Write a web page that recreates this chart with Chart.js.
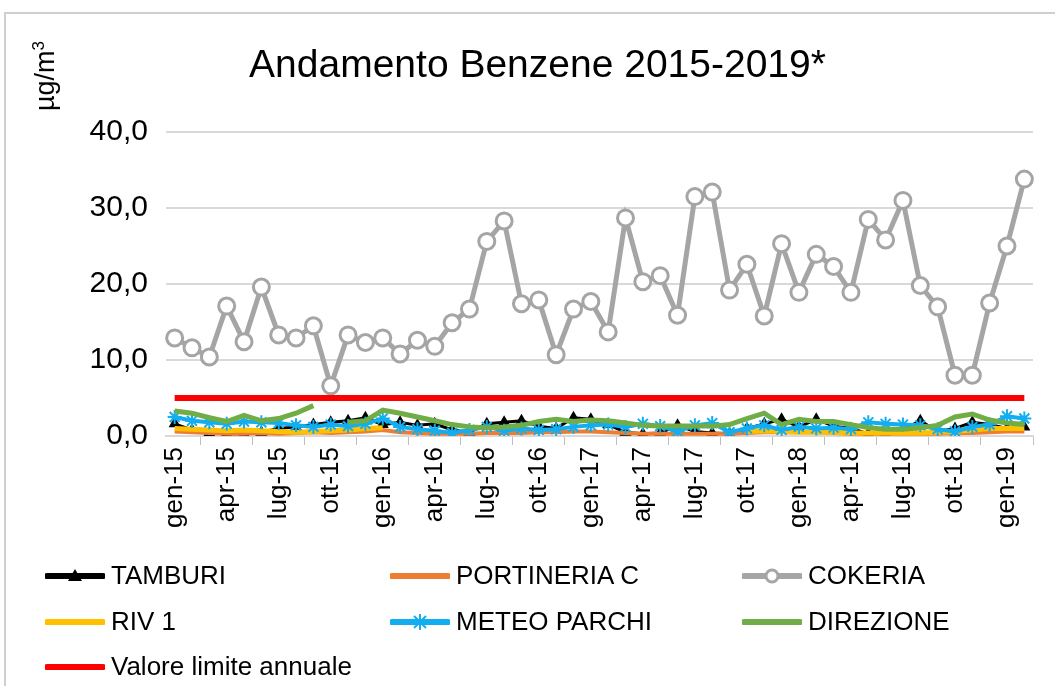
<!DOCTYPE html>
<html>
<head>
<meta charset="utf-8">
<script src="https://cdn.jsdelivr.net/npm/chart.js@4/dist/chart.umd.min.js"></script>
<style>
  body { margin: 0; background: #fff; font-family: "Liberation Sans", sans-serif; }
  #wrap { position: relative; width: 1055px; height: 686px; overflow: hidden; }
  #frame { position: absolute; left: 4px; top: 12px; right: -10px; bottom: -10px; border: 2px solid #cfcfcf; }
  #chart { position: absolute; left: 0; top: 0; }
  #title { position: absolute; left: 0; width: 1075px; top: 42px; text-align: center; font-size: 39px; color: #000; }
  #unit { position: absolute; left: 45px; top: 76px; transform: translate(-50%, -50%) rotate(-90deg); font-size: 27px; color: #000; white-space: nowrap; }
  #unit sup { font-size: 17px; }
  .leg { position: absolute; display: flex; align-items: center; font-size: 26px; color: #000; white-space: nowrap; }
  .leg svg { margin-right: 6px; }
</style>
</head>
<body>
<div id="wrap">
  <div id="frame"></div>
  <canvas id="chart" width="1055" height="686"></canvas>
  <div id="title">Andamento Benzene 2015-2019*</div>
  <div id="unit">µg/m<sup>3</sup></div>
  <div id="legend"></div>
</div>
<script>
const months = [
  "gen-15","feb-15","mar-15","apr-15","mag-15","giu-15","lug-15","ago-15","set-15","ott-15","nov-15","dic-15",
  "gen-16","feb-16","mar-16","apr-16","mag-16","giu-16","lug-16","ago-16","set-16","ott-16","nov-16","dic-16",
  "gen-17","feb-17","mar-17","apr-17","mag-17","giu-17","lug-17","ago-17","set-17","ott-17","nov-17","dic-17",
  "gen-18","feb-18","mar-18","apr-18","mag-18","giu-18","lug-18","ago-18","set-18","ott-18","nov-18","dic-18",
  "gen-19","feb-19"
];

const tamburi = [1.6,0.8,0.4,0.3,0.3,0.5,1.0,1.2,1.5,1.8,2.0,2.4,1.5,1.8,1.4,1.6,0.8,0.5,1.6,1.8,
  2.0,1.3,1.0,2.4,2.2,1.5,0.5,0.3,0.4,1.4,0.6,0.4,0.3,1.0,1.6,2.2,1.2,2.2,1.3,1.0,
  0.3,0.3,0.8,2.0,0.6,1.0,1.8,1.5,1.0,1.2];
const portineria = [0.6,0.5,0.4,0.3,0.3,0.4,0.3,0.4,0.5,0.4,0.5,0.6,0.8,0.5,0.4,0.3,0.3,0.3,0.4,0.4,
  0.4,0.5,0.5,0.6,0.6,0.5,0.4,0.3,0.3,0.3,0.3,0.3,0.3,0.4,0.5,0.5,0.5,0.5,0.4,0.3,
  0.3,0.3,0.3,0.3,0.3,0.4,0.4,0.5,0.6,0.6];
const cokeria = [12.9,11.6,10.4,17.1,12.4,19.6,13.3,12.9,14.5,6.6,
  13.3,12.3,12.9,10.8,12.6,11.8,14.9,16.7,25.6,28.3,
  17.4,17.9,10.7,16.7,17.7,13.7,28.7,20.3,21.1,15.9,
  31.5,32.1,19.2,22.6,15.8,25.3,18.9,23.9,22.3,18.9,
  28.5,25.8,31.0,19.8,17.0,8.0,8.0,17.5,25.0,33.8];
const riv1 = [1.0,0.9,0.8,0.7,0.8,0.7,0.6,0.5,0.6,0.7,0.8,1.0,1.1,null,null,null,null,null,null,null,
  null,null,null,null,null,null,null,null,null,null,null,null,null,0.6,0.7,0.6,0.5,0.5,0.5,0.4,
  0.4,0.4,0.4,0.4,0.5,0.6,0.8,1.0,1.0,1.0];
const meteoParchi = [2.5,2.0,1.8,1.6,1.9,1.8,1.7,1.4,1.2,1.5,1.3,1.6,2.3,1.2,0.9,0.7,0.4,0.8,1.2,0.7,
  1.0,0.8,0.9,1.2,1.4,1.5,1.2,1.6,1.3,0.6,1.4,1.7,0.5,1.0,1.4,0.8,1.2,1.0,1.1,0.9,
  1.8,1.6,1.5,1.4,0.9,0.6,1.2,1.5,2.6,2.3];
const direzione = [3.3,3.0,2.4,1.9,2.7,2.0,2.3,3.0,4.0,null,1.8,2.0,3.4,3.0,2.5,2.0,1.5,1.2,1.1,1.2,
  1.4,1.9,2.2,1.9,2.1,2.0,1.7,1.4,1.3,1.3,1.3,1.3,1.5,2.3,3.0,1.5,2.2,1.9,1.9,1.5,
  1.1,0.9,0.9,1.1,1.4,2.5,2.9,2.1,1.7,1.5];
const valoreLimite = months.map(() => 5.0);

const yTicks = [0, 10, 20, 30, 40];

const series = [
  { label: "TAMBURI", data: tamburi, color: "#000000", width: 3, point: "triangle", radius: 5, fill: "#000000" },
  { label: "PORTINERIA C", data: portineria, color: "#ED7D31", width: 4, point: false, radius: 0 },
  { label: "COKERIA", data: cokeria, color: "#A5A5A5", width: 5, point: "circle", radius: 8, fill: "#ffffff" },
  { label: "RIV 1", data: riv1, color: "#FFC000", width: 5, point: false, radius: 0 },
  { label: "METEO PARCHI", data: meteoParchi, color: "#12AEEF", width: 4, point: "star", radius: 7, fill: "#12AEEF" },
  { label: "DIREZIONE", data: direzione, color: "#70AD47", width: 5, point: false, radius: 0 },
  { label: "Valore limite annuale", data: valoreLimite, color: "#FF0000", width: 6, point: false, radius: 0 }
];

const datasets = series.map((s, i) => ({
  label: s.label,
  data: s.data,
  borderColor: s.color,
  backgroundColor: s.fill || s.color,
  borderWidth: s.width,
  pointStyle: s.point,
  pointRadius: s.radius,
  pointBorderColor: s.color,
  pointBackgroundColor: s.fill || s.color,
  pointBorderWidth: s.point === "circle" ? 3 : 2,
  tension: 0,
  spanGaps: false,
  order: series.length - i
}));

new Chart(document.getElementById("chart"), {
  type: "line",
  data: { labels: months, datasets: datasets },
  options: {
    responsive: false,
    animation: false,
    layout: { padding: { left: 0, top: 132, right: 22, bottom: 140 } },
    plugins: { legend: { display: false }, tooltip: { enabled: false } },
    scales: {
      x: {
        offset: true,
        afterFit: (s) => { s.height = 110; },
        grid: { offset: true, drawOnChartArea: false, drawTicks: true, tickLength: 9, color: "#bfbfbf" },
        border: { display: true, color: "#d9d9d9", width: 2 },
        ticks: {
          autoSkip: false,
          minRotation: 90,
          maxRotation: 90,
          padding: 2,
          color: "#000",
          font: { family: "'Liberation Sans', sans-serif", size: 26 },
          callback: (v, i) => (i % 3 === 0 ? months[i] : null)
        }
      },
      y: {
        min: 0,
        max: 40,
        afterFit: (s) => { s.width = 166; },
        afterBuildTicks: (s) => { s.ticks = yTicks.map((v) => ({ value: v })); },
        grid: { color: "#d9d9d9", lineWidth: 2, drawTicks: false },
        border: { display: false },
        ticks: {
          padding: 18,
          color: "#000",
          font: { family: "'Liberation Sans', sans-serif", size: 30 },
          callback: (v) => v.toFixed(1).replace(".", ",")
        }
      }
    }
  }
});

// legend in three columns, like the original
const legCols = [45, 390, 742];
const legRows = [577, 623, 668];

function markerSvg(s) {
  let m = "";
  if (s.point === "triangle") {
    m = '<polygon points="30,3 37,15 23,15" fill="#000"/>';
  } else if (s.point === "circle") {
    m = '<circle cx="30" cy="10" r="6" fill="#fff" stroke="' + s.color + '" stroke-width="3"/>';
  } else if (s.point === "star") {
    m = '<g stroke="' + s.color + '" stroke-width="2">' +
      '<line x1="30" y1="2" x2="30" y2="18"/><line x1="22" y1="10" x2="38" y2="10"/>' +
      '<line x1="24" y1="4" x2="36" y2="16"/><line x1="24" y1="16" x2="36" y2="4"/></g>';
  }
  return '<svg width="60" height="20"><line x1="2" y1="10" x2="58" y2="10" stroke="' + s.color +
    '" stroke-width="6" stroke-linecap="round"/>' + m + "</svg>";
}

const legendDiv = document.getElementById("legend");
series.forEach((s, i) => {
  const item = document.createElement("div");
  item.className = "leg";
  item.style.left = legCols[i % 3] + "px";
  item.style.top = (legRows[Math.floor(i / 3)] - 17) + "px";
  item.innerHTML = markerSvg(s) + "<span>" + s.label + "</span>";
  legendDiv.appendChild(item);
});
</script>
</body>
</html>
